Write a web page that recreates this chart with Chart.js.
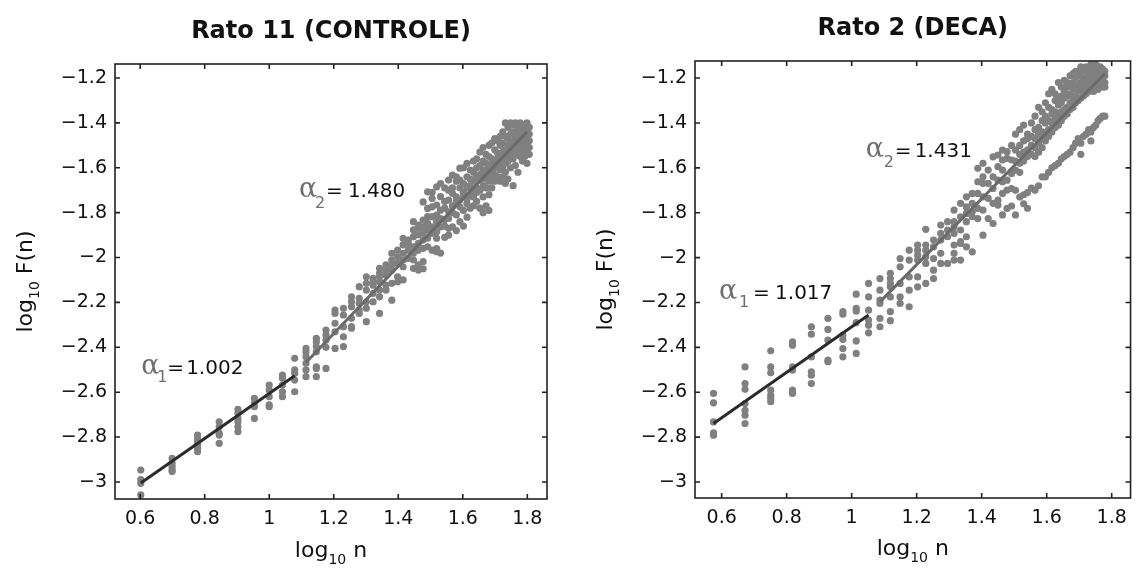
<!DOCTYPE html>
<html><head><meta charset="utf-8">
<script src="https://cdn.jsdelivr.net/npm/chart.js@4.4.0/dist/chart.umd.min.js"></script>
<style>
html,body{margin:0;padding:0;background:#fff;}
#wrap{position:relative;width:1136px;height:574px;background:#fff;}
.c{position:absolute;top:0;width:568px;height:574px;}
</style></head><body>
<div id="wrap">
<div class="c" style="left:0"><canvas id="c1" width="568" height="574"></canvas></div>
<div class="c" style="left:568px"><canvas id="c2" width="568" height="574"></canvas></div>
</div>
<script>
// ---------- DATA ----------
const xTicks = [0.6, 0.8, 1, 1.2, 1.4, 1.6, 1.8];
const yTicks = [-3, -2.8, -2.6, -2.4, -2.2, -2, -1.8, -1.6, -1.4, -1.2];

const titleLeft = 'Rato 11 (CONTROLE)';
const titleRight = 'Rato 2 (DECA)';

// log10 n, n = 4..64 (left chart)
const xLeft = [0.602,0.699,0.778,0.845,0.903,0.954,1.000,1.041,1.079,1.114,1.146,1.176,1.204,1.230,1.255,1.279,1.301,1.322,1.342,1.362,1.380,1.398,1.415,1.431,1.447,1.462,1.477,1.491,1.505,1.519,1.531,1.544,1.556,1.568,1.580,1.591,1.602,1.613,1.623,1.633,1.643,1.653,1.663,1.672,1.681,1.690,1.699,1.708,1.716,1.724,1.732,1.740,1.748,1.756,1.763,1.771,1.778,1.785,1.792,1.799,1.806];
const yLeft = [
 [-2.947,-2.990,-3.006,-3.058],
 [-2.895,-2.917,-2.932,-2.947,-2.954],
 [-2.791,-2.806,-2.821,-2.835,-2.850,-2.865],
 [-2.732,-2.754,-2.783,-2.791,-2.828],
 [-2.676,-2.694,-2.717,-2.732,-2.754,-2.776],
 [-2.627,-2.650,-2.665,-2.717],
 [-2.568,-2.590,-2.620,-2.657,-2.665],
 [-2.524,-2.538,-2.568,-2.598,-2.620],
 [-2.449,-2.501,-2.516,-2.546,-2.598],
 [-2.405,-2.420,-2.442,-2.471,-2.501,-2.531],
 [-2.360,-2.375,-2.397,-2.420,-2.487,-2.494,-2.531],
 [-2.323,-2.345,-2.368,-2.400,-2.494],
 [-2.234,-2.249,-2.293,-2.331,-2.405],
 [-2.226,-2.256,-2.308,-2.353,-2.397],
 [-2.175,-2.197,-2.219,-2.271,-2.308,-2.315],
 [-2.130,-2.182,-2.204,-2.234,-2.249],
 [-2.086,-2.115,-2.145,-2.197,-2.226,-2.286],
 [-2.093,-2.108,-2.123,-2.160,-2.197],
 [-2.048,-2.071,-2.086,-2.108,-2.145,-2.175,-2.249],
 [-2.033,-2.056,-2.078,-2.123,-2.145],
 [-1.981,-2.011,-2.033,-2.056,-2.115,-2.190],
 [-1.967,-1.997,-2.026,-2.086,-2.108],
 [-1.914,-1.944,-1.981,-2.011,-2.041,-2.100],
 [-1.922,-1.937,-1.967,-2.004],
 [-1.840,-1.877,-1.907,-1.952,-1.981,-2.011,-2.048],
 [-1.855,-1.870,-1.899,-1.937,-1.967,-2.033,-2.056],
 [-1.752,-1.833,-1.863,-1.892,-1.922,-1.959,-2.018,-2.050],
 [-1.707,-1.781,-1.818,-1.848,-1.877,-1.914,-1.952],
 [-1.710,-1.737,-1.774,-1.818,-1.863,-1.892,-1.967],
 [-1.685,-1.766,-1.811,-1.840,-1.885,-1.914,-1.960,-1.974],
 [-1.670,-1.729,-1.789,-1.826,-1.863,-1.980],
 [-1.690,-1.750,-1.780,-1.830,-1.860,-1.910],
 [-1.655,-1.700,-1.744,-1.796,-1.826,-1.870,-1.900],
 [-1.633,-1.690,-1.714,-1.770,-1.800,-1.863],
 [-1.640,-1.660,-1.730,-1.750,-1.810,-1.880],
 [-1.602,-1.655,-1.690,-1.744,-1.774,-1.840],
 [-1.600,-1.670,-1.710,-1.730,-1.790,-1.860],
 [-1.580,-1.640,-1.690,-1.740,-1.760,-1.820],
 [-1.610,-1.650,-1.680,-1.720,-1.780],
 [-1.570,-1.620,-1.660,-1.710,-1.730,-1.770],
 [-1.560,-1.600,-1.640,-1.690,-1.710,-1.750],
 [-1.530,-1.590,-1.630,-1.655,-1.700,-1.780],
 [-1.510,-1.570,-1.610,-1.640,-1.680,-1.730,-1.800],
 [-1.540,-1.580,-1.615,-1.650,-1.690,-1.770],
 [-1.500,-1.550,-1.600,-1.625,-1.660,-1.720,-1.790],
 [-1.490,-1.560,-1.585,-1.620,-1.640,-1.690],
 [-1.470,-1.520,-1.570,-1.600,-1.630,-1.660],
 [-1.480,-1.535,-1.560,-1.590,-1.640],
 [-1.460,-1.500,-1.550,-1.575,-1.610,-1.660],
 [-1.440,-1.490,-1.530,-1.560,-1.600,-1.640],
 [-1.400,-1.460,-1.520,-1.545,-1.580,-1.620,-1.670],
 [-1.420,-1.470,-1.500,-1.540,-1.570,-1.650],
 [-1.400,-1.450,-1.490,-1.520,-1.550,-1.600],
 [-1.410,-1.440,-1.480,-1.510,-1.560,-1.680],
 [-1.400,-1.460,-1.490,-1.500,-1.530,-1.590],
 [-1.420,-1.440,-1.470,-1.500,-1.540,-1.620],
 [-1.400,-1.450,-1.480,-1.520,-1.550],
 [-1.410,-1.430,-1.465,-1.490,-1.530,-1.570],
 [-1.420,-1.440,-1.470,-1.510,-1.550],
 [-1.400,-1.430,-1.460,-1.500,-1.530,-1.580],
 [-1.420,-1.450,-1.480,-1.510,-1.540]
];

// right chart columns
const xRight = [0.575,0.672,0.751,0.818,0.876,0.927,0.973,1.014,1.052,1.087,1.119,1.149,1.177,1.203,1.228,1.252,1.274,1.295,1.315,1.335,1.353,1.371,1.388,1.404,1.420,1.435,1.450,1.464,1.478,1.492,1.504,1.517,1.529,1.541,1.553,1.564,1.575,1.586,1.596,1.606,1.616,1.626,1.636,1.645,1.654,1.663,1.672,1.681,1.689,1.697,1.705,1.713,1.721,1.729,1.736,1.744,1.751,1.758,1.765,1.772,1.779];
const yRight = [
 [-2.605,-2.647,-2.732,-2.781,-2.791],
 [-2.487,-2.561,-2.587,-2.650,-2.680,-2.702,-2.739],
 [-2.415,-2.487,-2.513,-2.590,-2.613,-2.627,-2.642],
 [-2.375,-2.390,-2.487,-2.501,-2.590,-2.605],
 [-2.308,-2.341,-2.442,-2.509,-2.524,-2.561],
 [-2.271,-2.320,-2.368,-2.457,-2.464],
 [-2.241,-2.252,-2.345,-2.365,-2.405,-2.442],
 [-2.163,-2.226,-2.238,-2.290,-2.371,-2.427],
 [-2.115,-2.175,-2.234,-2.278,-2.301,-2.335],
 [-2.093,-2.145,-2.189,-2.204,-2.271,-2.308],
 [-2.070,-2.093,-2.115,-2.130,-2.175,-2.241,-2.281],
 [-2.004,-2.041,-2.115,-2.175,-2.204],
 [-1.967,-2.011,-2.086,-2.145,-2.219],
 [-1.944,-1.967,-1.989,-2.011,-2.086,-2.130],
 [-1.874,-1.944,-1.967,-1.996,-2.026,-2.115],
 [-1.922,-1.952,-2.004,-2.056,-2.093],
 [-1.855,-1.892,-1.922,-1.981,-2.026],
 [-1.840,-1.877,-1.907,-2.026],
 [-1.788,-1.840,-1.863,-1.892,-1.944,-1.981,-2.011],
 [-1.758,-1.818,-1.877,-1.929,-1.937,-2.011],
 [-1.729,-1.774,-1.803,-1.840,-1.907,-1.952],
 [-1.714,-1.758,-1.796,-1.818,-1.974],
 [-1.602,-1.662,-1.714,-1.781,-1.826],
 [-1.580,-1.640,-1.669,-1.729,-1.788,-1.900],
 [-1.610,-1.669,-1.736,-1.826],
 [-1.551,-1.640,-1.692,-1.758,-1.848],
 [-1.543,-1.595,-1.655,-1.744,-1.766],
 [-1.521,-1.565,-1.610,-1.662,-1.714,-1.810],
 [-1.528,-1.558,-1.655,-1.699,-1.781],
 [-1.500,-1.565,-1.625,-1.692,-1.770],
 [-1.450,-1.520,-1.570,-1.610,-1.700,-1.810],
 [-1.430,-1.500,-1.540,-1.580,-1.620,-1.730],
 [-1.410,-1.480,-1.530,-1.570,-1.720,-1.760],
 [-1.450,-1.470,-1.520,-1.550,-1.710,-1.780],
 [-1.400,-1.460,-1.500,-1.540,-1.690],
 [-1.370,-1.430,-1.470,-1.510,-1.550,-1.700],
 [-1.330,-1.420,-1.450,-1.490,-1.530,-1.680],
 [-1.350,-1.390,-1.440,-1.470,-1.510,-1.640],
 [-1.310,-1.370,-1.400,-1.450,-1.480,-1.640],
 [-1.270,-1.330,-1.390,-1.430,-1.460,-1.620],
 [-1.250,-1.340,-1.360,-1.400,-1.440,-1.600],
 [-1.270,-1.300,-1.350,-1.380,-1.420,-1.590],
 [-1.220,-1.290,-1.320,-1.370,-1.410,-1.580],
 [-1.240,-1.280,-1.310,-1.350,-1.390,-1.560],
 [-1.210,-1.260,-1.290,-1.340,-1.370,-1.550],
 [-1.220,-1.240,-1.280,-1.330,-1.360,-1.540],
 [-1.190,-1.230,-1.270,-1.310,-1.340,-1.530],
 [-1.180,-1.220,-1.250,-1.290,-1.330,-1.510],
 [-1.170,-1.200,-1.240,-1.280,-1.310,-1.490],
 [-1.170,-1.190,-1.230,-1.260,-1.300,-1.470],
 [-1.150,-1.180,-1.220,-1.250,-1.290,-1.490,-1.540],
 [-1.160,-1.200,-1.220,-1.250,-1.280,-1.460],
 [-1.150,-1.170,-1.200,-1.240,-1.270,-1.450],
 [-1.160,-1.180,-1.210,-1.230,-1.260,-1.430],
 [-1.140,-1.170,-1.190,-1.220,-1.250,-1.440,-1.480],
 [-1.150,-1.180,-1.200,-1.230,-1.260,-1.420],
 [-1.140,-1.160,-1.190,-1.210,-1.240,-1.410],
 [-1.150,-1.170,-1.190,-1.220,-1.250,-1.390],
 [-1.150,-1.180,-1.200,-1.230,-1.380],
 [-1.160,-1.180,-1.210,-1.240,-1.370],
 [-1.170,-1.190,-1.220,-1.240,-1.370]
];

// fitted lines (endpoints)
const fit1LeftX = [0.602, 1.079];
const fit1LeftY = [-3.005, -2.527];
const fit2LeftX = [1.114, 1.799];
const fit2LeftY = [-2.468, -1.440];
const fit1RightX = [0.575, 1.052];
const fit1RightY = [-2.739, -2.256];
const fit2RightX = [1.087, 1.780];
const fit2RightY = [-2.197, -1.180];

const alphaLeft = ['1.002', '1.480'];
const alphaRight = ['1.017', '1.431'];

// ---------- HELPERS ----------
const fmt = v => String(Math.round(v * 10) / 10).replace('-', '\u2212');
const pts = (xs, cols) => xs.flatMap((x, i) => cols[i].map(y => ({x, y})));
const line = (xs, ys) => xs.map((x, i) => ({x, y: ys[i]}));

function drawParts(ctx, parts, x, y, align) {
  let total = 0;
  parts.forEach(p => { ctx.font = p.font; p.w = ctx.measureText(p.t).width; total += p.w; });
  let cx = align === 'center' ? x - total / 2 : x;
  ctx.textAlign = 'left'; ctx.textBaseline = 'alphabetic';
  parts.forEach(p => { ctx.font = p.font; ctx.fillStyle = p.color || '#111'; ctx.fillText(p.t, cx, y + (p.dy || 0)); cx += p.w; });
}

const framePlugin = {
  id: 'frame',
  afterDraw(chart, args, o) {
    const {ctx, chartArea: a} = chart;
    const xs = chart.scales.x, ys = chart.scales.y;
    ctx.save();
    ctx.strokeStyle = '#222'; ctx.lineWidth = 1.6;
    ctx.strokeRect(a.left, a.top, a.right - a.left, a.bottom - a.top);
    ctx.beginPath();
    xs.ticks.forEach(t => {
      const px = xs.getPixelForValue(t.value);
      ctx.moveTo(px, a.bottom); ctx.lineTo(px, a.bottom - 5);
      ctx.moveTo(px, a.top); ctx.lineTo(px, a.top + 5);
    });
    ys.ticks.forEach(t => {
      const py = ys.getPixelForValue(t.value);
      ctx.moveTo(a.left, py); ctx.lineTo(a.left + 5, py);
      ctx.moveTo(a.right, py); ctx.lineTo(a.right - 5, py);
    });
    ctx.stroke();

    // chart title
    ctx.fillStyle = '#111';
    ctx.font = 'bold 24px "DejaVu Sans"';
    ctx.textAlign = 'center'; ctx.textBaseline = 'alphabetic';
    ctx.fillText(o.title, (a.left + a.right) / 2, a.top + o.titleDy);

    // x axis title
    drawParts(ctx, [
      {t: 'log', font: '22px "DejaVu Sans"'},
      {t: '10', font: '14px "DejaVu Sans"', dy: 7},
      {t: ' n', font: '22px "DejaVu Sans"'}
    ], (a.left + a.right) / 2, a.bottom + o.xTitleDy, 'center');

    // y axis title
    ctx.save();
    ctx.translate(a.left - o.yTitleDx, (a.top + a.bottom) / 2);
    ctx.rotate(-Math.PI / 2);
    drawParts(ctx, [
      {t: 'log', font: '22px "DejaVu Sans"'},
      {t: '10', font: '14px "DejaVu Sans"', dy: 7},
      {t: ' F(n)', font: '22px "DejaVu Sans"'}
    ], 0, 0, 'center');
    ctx.restore();

    // annotations
    o.annos.forEach(an => {
      const px = xs.getPixelForValue(an.x), py = ys.getPixelForValue(an.y);
      ctx.textAlign = 'left'; ctx.textBaseline = 'alphabetic';
      ctx.fillStyle = '#6e6e6e';
      ctx.font = '27px "DejaVu Serif"';
      ctx.fillText('\u03B1', px, py);
      ctx.font = '16px "DejaVu Sans"';
      ctx.fillText(an.sub, px + an.subDx, py + an.subDy);
      ctx.fillStyle = '#111';
      ctx.font = '20px "DejaVu Sans"';
      ctx.fillText('=', px + an.eqDx, py);
      ctx.fillText(an.val, px + an.valDx, py);
    });
    ctx.restore();
  }
};

function make(id, cfg) {
  const tickFont = {family: 'DejaVu Sans', size: 19};
  return new Chart(document.getElementById(id), {
    type: 'scatter',
    data: {
      datasets: [
        {data: line(cfg.f1x, cfg.f1y), showLine: true, borderColor: '#2b2b2b', borderWidth: 3, pointRadius: 0, order: 0},
        {data: line(cfg.f2x, cfg.f2y), showLine: true, borderColor: '#6a6a6a', borderWidth: 3, pointRadius: 0, order: 1},
        {data: pts(cfg.xs, cfg.ys), backgroundColor: '#808080', borderWidth: 0, pointRadius: 3.6, order: 2}
      ]
    },
    options: {
      responsive: false, animation: false,
      layout: {padding: {left: 0, right: cfg.padRight, top: cfg.top, bottom: 0}},
      plugins: {legend: {display: false}, tooltip: {enabled: false}, frame: cfg.frame},
      scales: {
        x: {
          type: 'linear', min: cfg.xmin, max: cfg.xmax,
          afterBuildTicks: s => { s.ticks = xTicks.map(v => ({value: v})); },
          afterFit: s => { s.height = cfg.xH; },
          grid: {display: false, drawTicks: false}, border: {display: false},
          ticks: {font: tickFont, color: '#111', padding: 9, maxRotation: 0, autoSkip: false, callback: v => fmt(v)}
        },
        y: {
          type: 'linear', min: cfg.ymin, max: cfg.ymax,
          afterBuildTicks: s => { s.ticks = yTicks.map(v => ({value: v})); },
          afterFit: s => { s.width = cfg.yW; },
          grid: {display: false, drawTicks: false}, border: {display: false},
          ticks: {font: tickFont, color: '#111', padding: 8, autoSkip: false, callback: v => fmt(v)}
        }
      }
    },
    plugins: [framePlugin]
  });
}

make('c1', {
  xs: xLeft, ys: yLeft, f1x: fit1LeftX, f1y: fit1LeftY, f2x: fit2LeftX, f2y: fit2LeftY,
  xmin: 0.522, xmax: 1.861, ymin: -3.076, ymax: -1.1376,
  yW: 115, padRight: 21, top: 64, xH: 75,
  frame: {
    title: titleLeft, titleDy: -26, xTitleDy: 58, yTitleDx: 83,
    annos: [
      {x: 0.603, y: -2.519, sub: '1', val: alphaLeft[0], subDx: 16, subDy: 8, eqDx: 26, valDx: 45},
      {x: 1.092, y: -1.730, sub: '2', val: alphaLeft[1], subDx: 16, subDy: 11, eqDx: 27, valDx: 49}
    ]
  }
});

make('c2', {
  xs: xRight, ys: yRight, f1x: fit1RightX, f1y: fit1RightY, f2x: fit2RightX, f2y: fit2RightY,
  xmin: 0.518, xmax: 1.858, ymin: -3.071, ymax: -1.124,
  yW: 127, padRight: 4.5, top: 61, xH: 76,
  frame: {
    title: titleRight, titleDy: -26, xTitleDy: 57, yTitleDx: 83,
    annos: [
      {x: 0.592, y: -2.185, sub: '1', val: alphaRight[0], subDx: 20, subDy: 8, eqDx: 34, valDx: 56},
      {x: 1.043, y: -1.552, sub: '2', val: alphaRight[1], subDx: 18, subDy: 10, eqDx: 29, valDx: 49}
    ]
  }
});
</script>
</body></html>
